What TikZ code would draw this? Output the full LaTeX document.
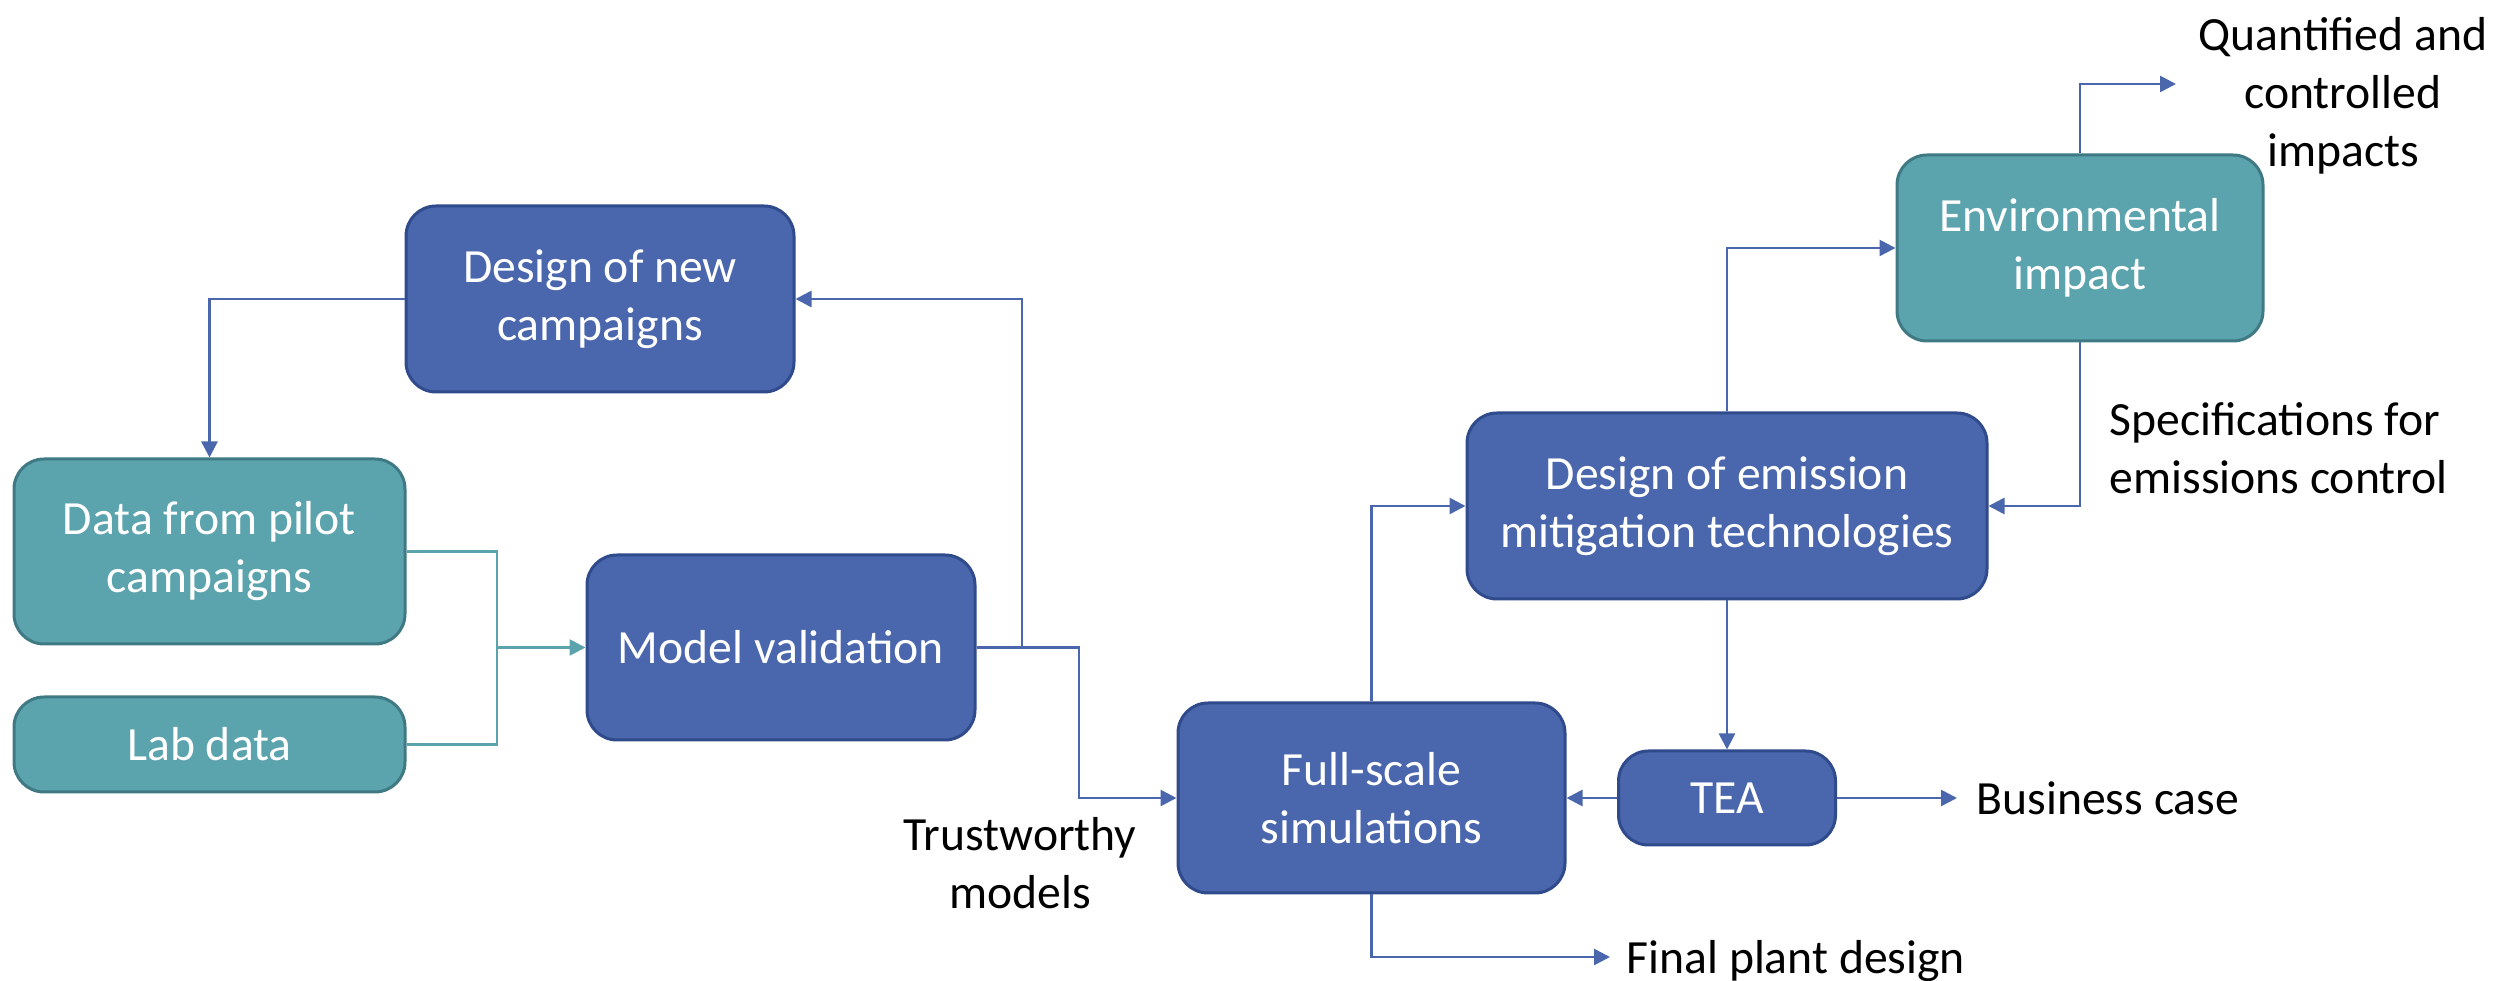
\documentclass[tikz,border=0pt]{standalone}
\usepackage{fontspec}
\setmainfont{Carlito}
\usetikzlibrary{arrows.meta}
\definecolor{bfill}{HTML}{4A66AC}
\definecolor{bdraw}{HTML}{2F4B8C}
\definecolor{tfill}{HTML}{5BA3AD}
\definecolor{tdraw}{HTML}{3F7A84}
\tikzset{
  box/.style={rounded corners=9pt, line width=0.9pt, text=white, align=center, inner sep=0pt,
    font=\fontsize{14.3}{17.4}\selectfont},
  bbox/.style={box, fill=bfill, draw=bdraw},
  tbox/.style={box, fill=tfill, draw=tdraw},
  lbl/.style={text=black, inner sep=0pt, font=\fontsize{14.3}{17.4}\selectfont},
  conn/.style={draw=bfill, line width=0.8pt, -{Triangle[length=4.8pt,width=4.8pt]}},
  tconn/.style={draw=tfill, line width=0.8pt},
  tconna/.style={tconn, -{Triangle[length=4.8pt,width=4.8pt]}}
}
\begin{document}
\begin{tikzpicture}[x=0.3pt,y=-0.3pt]
\useasboundingbox (0,0) rectangle (2499,981);
% nodes
\node[bbox, minimum width=116.4pt, minimum height=55.8pt] (dnc) at (600,299) {Design of new\\campaigns};
\node[tbox, minimum width=117.3pt, minimum height=55.5pt] (pilot) at (209.5,551.5) {Data from pilot\\campaigns};
\node[tbox, minimum width=117.3pt, minimum height=28.5pt] (lab) at (209.5,744.5) {Lab data};
\node[bbox, minimum width=116.4pt, minimum height=55.5pt] (mv) at (781,647.5) {Model validation};
\node[bbox, minimum width=116.1pt, minimum height=57pt] (fs) at (1371.5,798) {Full-scale\\simulations};
\node[bbox, minimum width=65.1pt, minimum height=28.2pt] (tea) at (1727,798) {TEA};
\node[bbox, minimum width=156pt, minimum height=55.8pt] (dem) at (1727,506) {Design of emission\\mitigation technologies};
\node[tbox, minimum width=109.8pt, minimum height=55.8pt] (env) at (2080,248) {Environmental\\impact};
% labels
\node[lbl, align=center] (qci) at (2343,96) {Quantified and\\controlled\\impacts};
\node[lbl, align=left, anchor=west] (spec) at (2109,448) {Specifications for\\emissions control};
\node[lbl, anchor=west] (bc) at (1976,798) {Business case};
\node[lbl, anchor=west] (fpd) at (1626,961) {Final plant design};
\node[lbl, align=center] (tm) at (1020,863) {Trustworthy\\models};
% helper coordinates
\coordinate (jt) at (497,647.5);
\coordinate (j1) at (1022,0);
\coordinate (j2) at (1079,0);
\coordinate (qend) at (2176,84);
\coordinate (fend) at (1610,957);
\coordinate (bend) at (1957,798);
% connectors
\draw[conn] (dnc.west) -| (pilot.north);
\draw[tconn] (pilot.east) -| (jt);
\draw[tconn] (lab.east) -| (jt);
\draw[tconna] (jt) -- (mv.west);
\draw[conn] (mv.east) -- (mv.east -| j1) |- (dnc.east);
\draw[conn] (mv.east) -- (mv.east -| j2) |- (fs.west);
\draw[conn] (fs.north) |- (dem.west);
\draw[conn] (fs.south) |- (fend);
\draw[conn] (dem.south) -- (tea.north);
\draw[conn] (tea.west) -- (fs.east);
\draw[conn] (tea.east) -- (bend);
\draw[conn] (dem.north) |- (env.west);
\draw[conn] (env.south) |- (dem.east);
\draw[conn] (env.north) |- (qend);
\end{tikzpicture}
\end{document}
